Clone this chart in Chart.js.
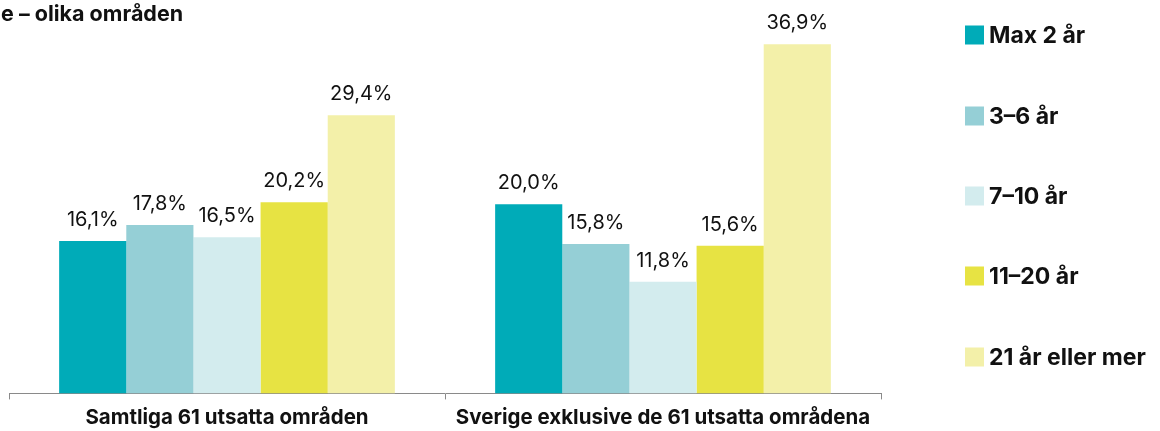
<!DOCTYPE html>
<html>
<head>
<meta charset="utf-8">
<script src="https://cdn.jsdelivr.net/npm/chart.js@4/dist/chart.umd.min.js"></script>
<style>
html,body{margin:0;padding:0;background:#fff;}
canvas{display:block;}
</style>
</head>
<body>
<canvas id="c" width="1160" height="431"></canvas>
<script>
const titleText = "e – olika områden";
const categories = ["Samtliga 61 utsatta områden", "Sverige exklusive de 61 utsatta områdena"];
const seriesNames = ["Max 2 år", "3–6 år", "7–10 år", "11–20 år", "21 år eller mer"];
const max2 = [16.1, 20.0];
const y3to6 = [17.8, 15.8];
const y7to10 = [16.5, 11.8];
const y11to20 = [20.2, 15.6];
const y21plus = [29.4, 36.9];
const colors = ["#00abb8", "#95cfd6", "#d3ecee", "#e7e343", "#f3f0a9"];

const seriesValues = [max2, y3to6, y7to10, y11to20, y21plus];
const FONT = "Inter, 'Liberation Sans', Arial, sans-serif";

const fmt = v => v.toFixed(1).replace(".", ",") + "%";

const labelPlugin = {
  id: "valueLabels",
  afterDatasetsDraw(chart) {
    const ctx = chart.ctx;
    ctx.save();
    ctx.font = "400 20px " + FONT;
    ctx.fillStyle = "#111";
    ctx.textAlign = "center";
    ctx.textBaseline = "alphabetic";
    chart.data.datasets.forEach((ds, di) => {
      const meta = chart.getDatasetMeta(di);
      meta.data.forEach((bar, i) => {
        ctx.fillText(fmt(ds.data[i]), bar.x, bar.y - 15);
      });
    });
    ctx.restore();
  }
};

const legendTitlePlugin = {
  id: "legendTitle",
  afterDraw(chart) {
    const ctx = chart.ctx;
    ctx.save();
    ctx.font = "700 21.5px " + FONT;
    ctx.fillStyle = "#111";
    ctx.textAlign = "left";
    ctx.textBaseline = "alphabetic";
    ctx.fillText(titleText, 1, 21);
    const yCenters = [35, 116, 196, 276, 357];
    ctx.font = "700 23px " + FONT;
    ctx.textBaseline = "middle";
    chart.data.datasets.forEach((ds, di) => {
      const yc = yCenters[di];
      ctx.fillStyle = ds.backgroundColor;
      ctx.fillRect(965, yc - 9.5, 19, 19);
      ctx.fillStyle = "#111";
      ctx.fillText(ds.label, 989, yc + 1);
    });
    ctx.restore();
  }
};

new Chart(document.getElementById("c"), {
  type: "bar",
  data: {
    labels: categories,
    datasets: seriesNames.map((name, i) => ({
      label: name,
      data: seriesValues[i],
      backgroundColor: colors[i],
      borderWidth: 0,
      categoryPercentage: 0.77,
      barPercentage: 1.0
    }))
  },
  options: {
    responsive: false,
    animation: false,
    layout: { padding: { left: 9, right: 279, top: 15, bottom: -5 } },
    plugins: {
      legend: { display: false },
      tooltip: { enabled: false }
    },
    scales: {
      x: {
        grid: {
          display: true,
          drawOnChartArea: false,
          drawTicks: true,
          tickLength: 6,
          color: "#8a8a8a",
          offset: true
        },
        border: { display: true, color: "#8a8a8a", width: 1 },
        ticks: {
          color: "#111",
          padding: 6,
          font: { family: FONT, size: 20.5, weight: "700" }
        }
      },
      y: {
        display: false,
        min: 0,
        max: 40
      }
    }
  },
  plugins: [labelPlugin, legendTitlePlugin]
});
</script>
</body>
</html>
